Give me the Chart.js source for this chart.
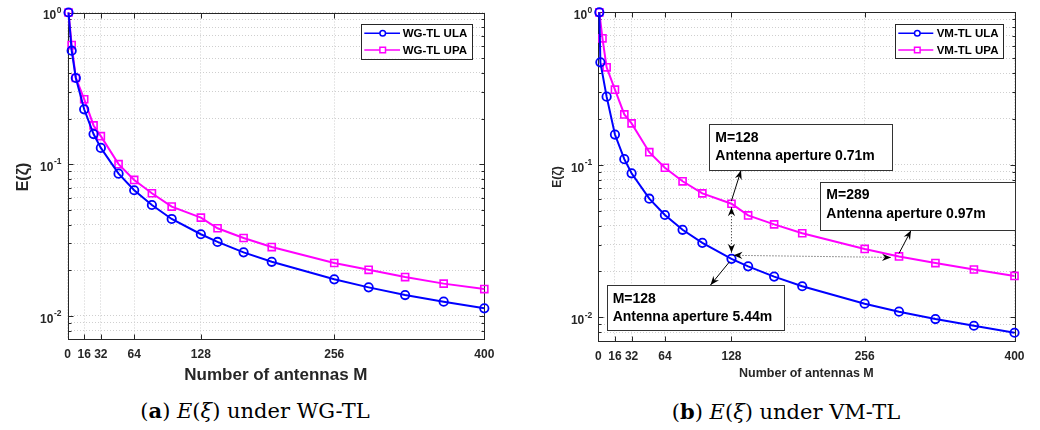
<!DOCTYPE html>
<html><head><meta charset="utf-8">
<script src="https://cdn.jsdelivr.net/npm/chart.js@4.4.1/dist/chart.umd.min.js"></script>
<style>
html,body{margin:0;padding:0;background:#fff}
body{width:1040px;height:430px;overflow:hidden;position:relative}
.cbox{position:absolute;top:0;width:520px;height:392px}
#b1{left:0}#b2{left:520px}
.cap{position:absolute;font-family:"DejaVu Serif",serif;font-size:21px;color:#000;white-space:nowrap;transform:translate(-50%,-50%)}
</style></head><body>
<div class="cbox" id="b1"><canvas id="c1" width="520" height="392"></canvas></div>
<div class="cbox" id="b2"><canvas id="c2" width="520" height="392"></canvas></div>
<div class="cap" style="left:255px;top:410px">(<b>a</b>) <i>E</i>(<i>ξ</i>) under WG-TL</div>
<div class="cap" style="left:786px;top:411px">(<b>b</b>) <i>E</i>(<i>ξ</i>) under VM-TL</div>
<script>
// ---------- data ----------
const xTickValues = [0, 16, 32, 64, 128, 256, 400];
const xTickLabels = ['0', '16', '32', '64', '128', '256', '400'];
const yDecades = [1, 0.1, 0.01];
const yDecadeExponents = ['0', '-1', '-2'];
const yGridValues = [0.007,0.008,0.009,0.01,0.02,0.03,0.04,0.05,0.06,0.07,0.08,0.09,0.1,0.2,0.3,0.4,0.5,0.6,0.7,0.8,0.9,1];

const wgM = [1,4,8,16,25,32,49,64,81,100,128,144,169,196,256,289,324,361,400];
const wgULA = [1.0,0.56,0.37,0.230,0.158,0.128,0.0866,0.0673,0.0538,0.0435,0.0345,0.0307,0.0262,0.0227,0.0174,0.0154,0.0137,0.0124,0.0112];
const wgUPA = [1.0,0.61,0.37,0.268,0.180,0.153,0.100,0.0787,0.0643,0.0525,0.0444,0.0378,0.0326,0.0284,0.0223,0.0201,0.0180,0.0163,0.0150];

const vmM_ULA = [1,2,8,16,25,32,49,64,81,100,128,144,169,196,256,289,324,361,400];
const vmULA = [1.0,0.47,0.280,0.158,0.109,0.088,0.060,0.0469,0.0375,0.0308,0.0242,0.0216,0.0185,0.0160,0.0123,0.0109,0.00975,0.00881,0.00793];
const vmM_UPA = [1,4,8,16,25,32,49,64,81,100,128,144,169,196,256,289,324,361,400];
const vmUPA = [1.0,0.675,0.436,0.311,0.214,0.187,0.121,0.0957,0.078,0.065,0.0556,0.0466,0.0407,0.0356,0.0281,0.0251,0.0227,0.0206,0.0187];

const labelsWG = ['WG-TL ULA', 'WG-TL UPA'];
const labelsVM = ['VM-TL ULA', 'VM-TL UPA'];
const yTitle = 'E(\u03B6)';
const xTitle = 'Number of antennas M';
const annTexts = [
  ['M=128', 'Antenna aperture 0.71m'],
  ['M=289', 'Antenna aperture 0.97m'],
  ['M=128', 'Antenna aperture 5.44m']
];

// ---------- drawing helpers ----------
const FONT = '"Liberation Sans", Arial, Helvetica, sans-serif';
const AX = '#262626';

function arrowHead(ctx, x1, y1, x2, y2) {
  const a = Math.atan2(y2 - y1, x2 - x1);
  const L = 9, W = 3.6, N = 6;
  ctx.save();
  ctx.translate(x2, y2); ctx.rotate(a);
  ctx.beginPath();
  ctx.moveTo(0, 0); ctx.lineTo(-L, -W); ctx.lineTo(-N, 0); ctx.lineTo(-L, W); ctx.closePath();
  ctx.fillStyle = '#000'; ctx.fill();
  ctx.restore();
}
function arrow(ctx, x1, y1, x2, y2, dotted, both) {
  ctx.save();
  ctx.strokeStyle = '#000'; ctx.lineWidth = dotted ? 0.8 : 1;
  if (dotted) ctx.setLineDash([1, 2]);
  ctx.beginPath(); ctx.moveTo(x1, y1); ctx.lineTo(x2, y2); ctx.stroke();
  ctx.setLineDash([]);
  arrowHead(ctx, x1, y1, x2, y2);
  if (both) arrowHead(ctx, x2, y2, x1, y1);
  ctx.restore();
}

const framePlugin = {
  id: 'frame',
  beforeDatasetsDraw(chart) {
    const ctx = chart.ctx, ca = chart.chartArea;
    const xs = chart.scales.x, ys = chart.scales.y;
    ctx.save();
    ctx.strokeStyle = AX; ctx.lineWidth = 1;
    const L = Math.round(ca.left) + 0.5, R = Math.round(ca.right) + 0.5;
    const T = Math.round(ca.top) + 0.5, B = Math.round(ca.bottom) + 0.5;
    ctx.strokeRect(L, T, R - L, B - T);
    ctx.beginPath();
    xTickValues.forEach(v => {
      const px = Math.round(xs.getPixelForValue(v)) + 0.5;
      ctx.moveTo(px, B); ctx.lineTo(px, B - 5);
      ctx.moveTo(px, T); ctx.lineTo(px, T + 5);
    });
    yGridValues.forEach(v => {
      const py = Math.round(ys.getPixelForValue(v)) + 0.5;
      const len = yDecades.includes(v) ? 5 : 3;
      ctx.moveTo(L, py); ctx.lineTo(L + len, py);
      ctx.moveTo(R, py); ctx.lineTo(R - len, py);
    });
    ctx.stroke();
    ctx.restore();
  },
  afterDatasetsDraw(chart, args, opts) {
    const ctx = chart.ctx, ca = chart.chartArea;
    const xs = chart.scales.x, ys = chart.scales.y;
    ctx.save();
    // y tick labels with superscript exponents
    ctx.fillStyle = AX; ctx.textBaseline = 'middle'; ctx.textAlign = 'right';
    yDecades.forEach((v, i) => {
      const py = ys.getPixelForValue(v);
      const rx = ca.left - 6;
      ctx.font = 'bold 8.5px ' + FONT;
      const ew = ctx.measureText(yDecadeExponents[i]).width;
      ctx.fillText(yDecadeExponents[i], rx, py - 2);
      ctx.font = 'bold 12px ' + FONT;
      ctx.fillText('10', rx - ew - 0.5, py + 3.5);
    });
    // axis titles
    ctx.textAlign = 'center';
    ctx.font = 'bold ' + opts.xtSize + 'px ' + FONT;
    ctx.fillText(xTitle, (ca.left + ca.right) / 2, opts.xtY);
    ctx.save();
    ctx.translate(opts.ytX, opts.ytY); ctx.rotate(-Math.PI / 2);
    ctx.font = 'bold ' + opts.ytSize + 'px ' + FONT;
    ctx.fillText(yTitle, 0, 0);
    ctx.restore();
    // annotations
    if (opts.annot) {
      const pt = (di, m) => {
        const ds = chart.data.datasets[di];
        const p = ds.data.find(d => d.x === m);
        return { x: xs.getPixelForValue(p.x), y: ys.getPixelForValue(p.y) };
      };
      const u128 = pt(1, 128), b128 = pt(0, 128), u289 = pt(1, 289);
      arrow(ctx, u128.x, u128.y - 3, 221, 170.5, false, false);
      arrow(ctx, u289.x, u289.y - 3, 391, 230.5, false, false);
      arrow(ctx, b128.x - 2, b128.y + 3, 190.5, 285, false, false);
      arrow(ctx, u128.x, u128.y + 3.5, b128.x, b128.y - 6, true, true);
      arrow(ctx, b128.x + 2, b128.y - 3.5, u289.x - 8, u289.y + 1, true, true);
      opts.annot.forEach((b, i) => {
        ctx.fillStyle = '#fff';
        ctx.fillRect(b.x, b.y, b.w, b.h);
        ctx.strokeStyle = '#333'; ctx.lineWidth = 1;
        ctx.strokeRect(Math.round(b.x) + 0.5, Math.round(b.y) + 0.5, Math.round(b.w), Math.round(b.h));
        ctx.fillStyle = '#000'; ctx.textAlign = 'left'; ctx.textBaseline = 'middle';
        ctx.font = 'bold 14px ' + FONT;
        ctx.fillText(annTexts[i][0], b.x + 6, b.y + 13.8);
        ctx.fillText(annTexts[i][1], b.x + 6, b.y + 32.6);
      });
    }
    // legend
    const lg = opts.legend;
    ctx.fillStyle = '#fff';
    ctx.fillRect(lg.x, lg.y, lg.w, lg.h);
    ctx.strokeStyle = AX; ctx.lineWidth = 1;
    ctx.strokeRect(Math.round(lg.x) + 0.5, Math.round(lg.y) + 0.5, Math.round(lg.w), Math.round(lg.h));
    chart.data.datasets.forEach((ds, i) => {
      const cy = lg.y + lg.rows[i];
      ctx.strokeStyle = ds.borderColor; ctx.lineWidth = 1.5;
      ctx.beginPath(); ctx.moveTo(lg.x + lg.lx1, cy); ctx.lineTo(lg.x + lg.lx2, cy); ctx.stroke();
      const mx = lg.x + lg.mx;
      ctx.fillStyle = '#fff';
      ctx.beginPath();
      if (ds.pointStyle === 'circle') ctx.arc(mx, cy, 2.8, 0, Math.PI * 2);
      else ctx.rect(mx - 2.8, cy - 2.8, 5.6, 5.6);
      ctx.fill(); ctx.stroke();
      ctx.fillStyle = '#000'; ctx.textAlign = 'left'; ctx.textBaseline = 'middle';
      ctx.font = 'bold 11.5px ' + FONT;
      ctx.fillText(ds.label, lg.x + lg.tx, cy + 0.5);
    });
    ctx.restore();
  }
};

function makeChart(id, Mu, yu, Mp, yp, labels, cfg) {
  const gridOpts = { color: '#cfcfcf', lineWidth: 1, drawTicks: false };
  return new Chart(document.getElementById(id), {
    type: 'line',
    data: {
      datasets: [
        { label: labels[0], data: Mu.map((m, i) => ({ x: m, y: yu[i] })),
          borderColor: '#0000ff', backgroundColor: 'rgba(0,0,0,0)', borderWidth: 2,
          pointStyle: 'circle', pointRadius: 4.2, pointBorderWidth: 1.8,
          pointBackgroundColor: 'rgba(0,0,0,0)', clip: false, tension: 0 },
        { label: labels[1], data: Mp.map((m, i) => ({ x: m, y: yp[i] })),
          borderColor: '#ff00ff', backgroundColor: 'rgba(0,0,0,0)', borderWidth: 2,
          pointStyle: 'rect', pointRadius: 5, pointBorderWidth: 1.6,
          pointBackgroundColor: 'rgba(0,0,0,0)', clip: false, tension: 0 }
      ]
    },
    options: {
      responsive: false, animation: false, events: [],
      layout: { padding: { top: cfg.top, right: cfg.right, left: 0, bottom: 0 } },
      plugins: { legend: { display: false }, tooltip: { enabled: false }, frame: cfg.frame },
      scales: {
        x: {
          type: 'linear', min: 0, max: 400,
          afterBuildTicks: s => { s.ticks = xTickValues.map(v => ({ value: v })); },
          afterFit: s => { s.height = cfg.xh; },
          grid: gridOpts, border: { display: false, dash: [1, 2] },
          ticks: { autoSkip: false, maxRotation: 0, padding: 8, color: AX,
            font: { family: FONT, size: 12, weight: 'bold' },
            callback: (v) => { const k = xTickValues.indexOf(v); return k >= 0 ? xTickLabels[k] : ''; } }
        },
        y: {
          type: 'logarithmic', min: 0.007, max: 1,
          afterBuildTicks: s => { s.ticks = yGridValues.map(v => ({ value: v })); },
          afterFit: s => { s.width = cfg.yw; },
          grid: gridOpts, border: { display: false, dash: [1, 2] },
          ticks: { display: false }
        }
      }
    },
    plugins: [framePlugin]
  });
}

makeChart('c1', wgM, wgULA, wgM, wgUPA, labelsWG, {
  top: 12.5, right: 520 - 484.3, xh: 392 - 339.3, yw: 67.5,
  frame: { xtSize: 17, xtY: 375, ytX: 23.5, ytY: 177, ytSize: 16,
    legend: { x: 361, y: 24, w: 111, h: 34.7, rows: [9.3, 26], lx1: 3.3, lx2: 39, mx: 21.7, tx: 41.7 } }
});
makeChart('c2', vmM_ULA, vmULA, vmM_UPA, vmUPA, labelsVM, {
  top: 12.3, right: 520 - 494.5, xh: 392 - 341, yw: 78.3,
  frame: { xtSize: 12.5, xtY: 373.5, ytX: 37.7, ytY: 177, ytSize: 12,
    legend: { x: 374.7, y: 24.3, w: 108, h: 34.4, rows: [9, 25.7], lx1: 3.6, lx2: 38.6, mx: 22.6, tx: 42 },
    annot: [
      { x: 189.3, y: 124, w: 182.7, h: 46 },
      { x: 300.3, y: 181.7, w: 195, h: 48.3 },
      { x: 86.7, y: 285, w: 176.6, h: 45 }
    ] }
});
</script>
</body></html>
